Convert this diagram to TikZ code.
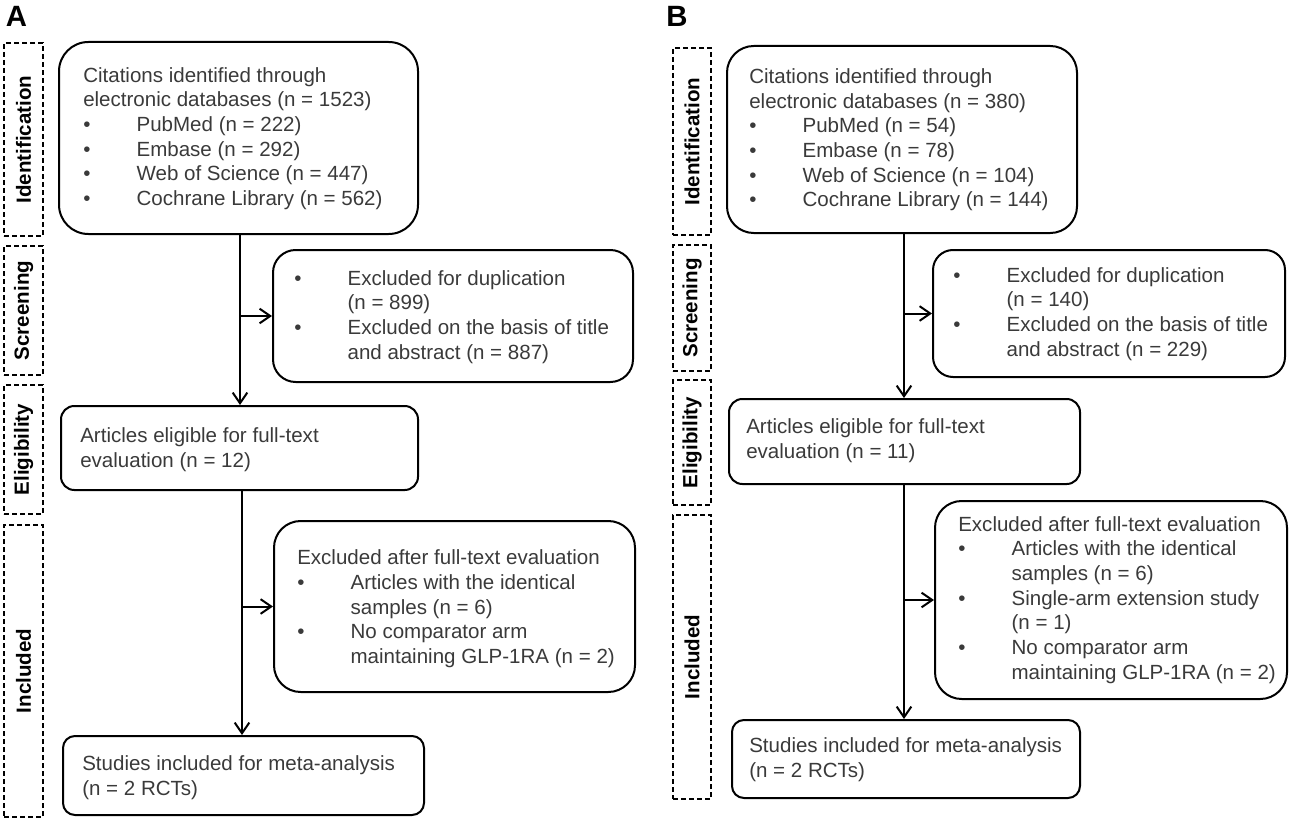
\documentclass[tikz,border=0pt]{standalone}
\usepackage{fontspec}
\setmainfont{Liberation Sans}
\usetikzlibrary{arrows.meta}
\definecolor{txt}{HTML}{3A3A3A}
\newcommand\bulitem{\makebox[40pt][l]{\textbullet}}
\newcommand\contind{\hspace*{40pt}}
\tikzset{
  flowbox/.style={draw=black, line width=1.5pt, inner sep=0pt},
  flowtext/.style={anchor=west, align=left, inner sep=0pt, text=txt,
    font=\fontsize{15.4pt}{18.5pt}\selectfont},
  stagebox/.style={draw=black, line width=1pt, dash pattern=on 3.5pt off 2.5pt, inner sep=0pt},
  stagelabel/.style={rotate=90, inner sep=0pt, text=black,
    font=\bfseries\fontsize{15.4pt}{18pt}\selectfont},
  panellabel/.style={inner sep=0pt, font=\bfseries\fontsize{22pt}{26pt}\selectfont},
  flowarrow/.style={line width=1.5pt, -{Straight Barb[length=8pt,width=11pt,line width=1.5pt]}},
  flowline/.style={line width=1.5pt}
}
\begin{document}
\begin{tikzpicture}[x=0.75pt,y=-0.75pt]
\useasboundingbox (0,0) rectangle (1299,820);

% ---------------- Panel A ----------------
\node[panellabel] (labA) at (16.5,16) {A};

\node[stagebox, minimum width=29.25pt, minimum height=144.75pt] (idA) at (23.5,139.5) {};
\node[stagebox, minimum width=29.25pt, minimum height=96.75pt] (scA) at (23.5,310.5) {};
\node[stagebox, minimum width=29.25pt, minimum height=96.75pt] (elA) at (23.5,449.5) {};
\node[stagebox, minimum width=29.25pt, minimum height=219pt] (inA) at (23.5,671) {};
\node[stagelabel] (idAt) at (idA) {Identification};
\node[stagelabel] (scAt) at (scA) {Screening};
\node[stagelabel] (elAt) at (elA) {Eligibility};
\node[stagelabel] (inAt) at (inA) {Included};

\node[flowbox, rounded corners=22pt, minimum width=269.25pt, minimum height=144pt] (A1) at (238.5,138) {};
\node[flowtext] (A1t) at (83,138.5) {Citations identified through\\
electronic databases (n = 1523)\\
\bulitem PubMed (n = 222)\\
\bulitem Embase (n = 292)\\
\bulitem Web of Science (n = 447)\\
\bulitem Cochrane Library (n = 562)};

\node[flowbox, rounded corners=17pt, minimum width=270pt, minimum height=99pt] (Ascr) at (453,316) {};
\node[flowtext] (Ascrt) at (294,317) {\bulitem Excluded for duplication\\
\contind (n = 899)\\
\bulitem Excluded on the basis of title\\
\contind and abstract (n = 887)};

\node[flowbox, rounded corners=10pt, minimum width=267.75pt, minimum height=63pt] (Aelig) at (239.5,448) {};
\node[flowtext] (Aeligt) at (80,449.5) {Articles eligible for full-text\\
evaluation (n = 12)};

\node[flowbox, rounded corners=20pt, minimum width=270.75pt, minimum height=128.25pt] (Aexc) at (454.5,606.5) {};
\node[flowtext] (Aexct) at (297,609) {Excluded after full-text evaluation\\
\bulitem Articles with the identical\\
\contind samples (n = 6)\\
\bulitem No comparator arm\\
\contind maintaining GLP-1RA (n = 2)};

\node[flowbox, rounded corners=9pt, minimum width=270.75pt, minimum height=59.25pt] (Afin) at (243.5,775.5) {};
\node[flowtext] (Afint) at (82,778) {Studies included for meta-analysis\\
(n = 2 RCTs)};

\coordinate (vA1) at (240,0);
\coordinate (vA2) at (242,0);
\draw[flowarrow] (A1.south -| vA1) -- (Aelig.north -| vA1);
\draw[flowarrow] (vA1 |- Ascr.west) -- (Ascr.west);
\draw[flowarrow] (Aelig.south -| vA2) -- (Afin.north -| vA2);
\draw[flowarrow] (vA2 |- Aexc.west) -- (Aexc.west);

% ---------------- Panel B ----------------
\node[panellabel] (labB) at (677,16) {B};

\node[stagebox, minimum width=28.5pt, minimum height=140.25pt] (idB) at (692,141.5) {};
\node[stagebox, minimum width=28.5pt, minimum height=94.5pt] (scB) at (692,308) {};
\node[stagebox, minimum width=28.5pt, minimum height=93.75pt] (elB) at (692,442.5) {};
\node[stagebox, minimum width=28.5pt, minimum height=213pt] (inB) at (692,657) {};
\node[stagelabel] (idBt) at (idB) {Identification};
\node[stagelabel] (scBt) at (scB) {Screening};
\node[stagelabel] (elBt) at (elB) {Eligibility};
\node[stagelabel] (inBt) at (inB) {Included};

\node[flowbox, rounded corners=20pt, minimum width=262.5pt, minimum height=140.25pt] (B1) at (902,139.5) {};
\node[flowtext] (B1t) at (749,140) {Citations identified through\\
electronic databases (n = 380)\\
\bulitem PubMed (n = 54)\\
\bulitem Embase (n = 78)\\
\bulitem Web of Science (n = 104)\\
\bulitem Cochrane Library (n = 144)};

\node[flowbox, rounded corners=15pt, minimum width=264pt, minimum height=95.25pt] (Bscr) at (1109,313.5) {};
\node[flowtext] (Bscrt) at (953,314) {\bulitem Excluded for duplication\\
\contind (n = 140)\\
\bulitem Excluded on the basis of title\\
\contind and abstract (n = 229)};

\node[flowbox, rounded corners=10pt, minimum width=263.25pt, minimum height=63.75pt] (Belig) at (904.5,441.5) {};
\node[flowtext] (Beligt) at (746,441) {Articles eligible for full-text\\
evaluation (n = 11)};

\node[flowbox, rounded corners=20pt, minimum width=264pt, minimum height=148.5pt] (Bexc) at (1111,600) {};
\node[flowtext] (Bexct) at (958,600) {Excluded after full-text evaluation\\
\bulitem Articles with the identical\\
\contind samples (n = 6)\\
\bulitem Single-arm extension study\\
\contind (n = 1)\\
\bulitem No comparator arm\\
\contind maintaining GLP-1RA (n = 2)};

\node[flowbox, rounded corners=9pt, minimum width=261pt, minimum height=58.5pt] (Bfin) at (906,759) {};
\node[flowtext] (Bfint) at (749,760) {Studies included for meta-analysis\\
(n = 2 RCTs)};

\coordinate (vB1) at (904,0);
\coordinate (vB2) at (904,0);
\draw[flowarrow] (B1.south -| vB1) -- (Belig.north -| vB1);
\draw[flowarrow] (vB1 |- Bscr.west) -- (Bscr.west);
\draw[flowarrow] (Belig.south -| vB2) -- (Bfin.north -| vB2);
\draw[flowarrow] (vB2 |- Bexc.west) -- (Bexc.west);
\end{tikzpicture}
\end{document}
